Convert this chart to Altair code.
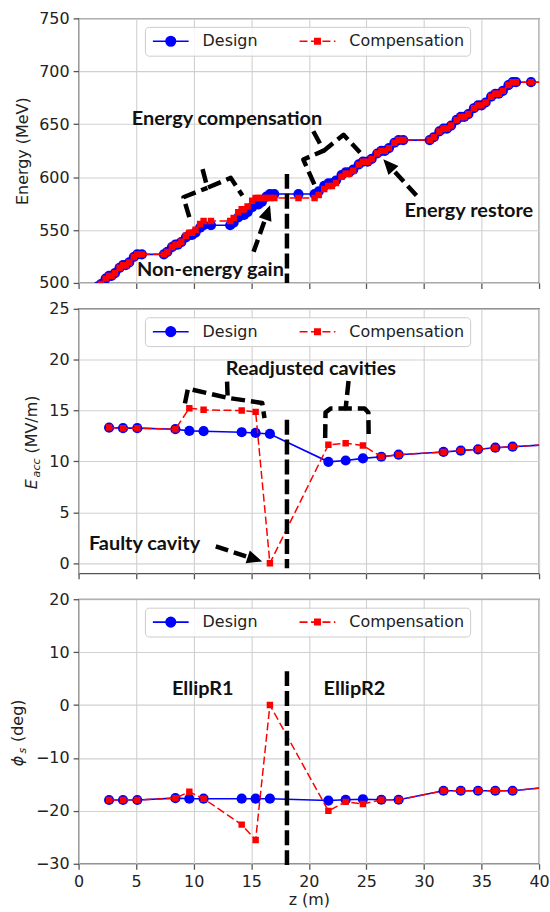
import altair as alt
import pandas as pd

# ---------------- series ----------------
series_names = ["Design", "Compensation"]
series_colors = ["#0000ff", "#ff0000"]

# cavity positions (m) with accelerating field (MV/m) and synchronous phase (deg)
cav_z = [2.65, 3.86, 5.10, 8.41, 9.62, 10.86, 14.17, 15.38, 16.62,
         21.70, 23.20, 24.70, 26.30, 27.80, 31.70, 33.20, 34.70, 36.20, 37.70, 41.60]
eacc_design = [13.33, 13.27, 13.27, 13.17, 13.00, 12.97, 12.87, 12.80, 12.70,
               9.96, 10.09, 10.30, 10.46, 10.66, 10.93, 11.06, 11.19, 11.35, 11.45, 11.70]
eacc_comp = [13.33, 13.27, 13.27, 13.17, 15.23, 15.07, 15.00, 14.87, 0.00,
             11.63, 11.79, 11.56, 10.46, 10.66, 10.93, 11.06, 11.19, 11.35, 11.45, 11.70]
phase_design = [-17.95, -17.95, -17.95, -17.6, -17.7, -17.7, -17.7, -17.7, -17.7,
                -18.05, -17.9, -17.8, -17.9, -17.9, -16.2, -16.2, -16.2, -16.2, -16.2, -15.35]
phase_comp = [-17.95, -17.95, -17.95, -17.6, -16.4, -17.7, -22.6, -25.5, 0.0,
              -20.0, -18.3, -18.7, -17.9, -17.9, -16.2, -16.2, -16.2, -16.2, -16.2, -15.35]

# beam energy sampled through the cavities (m, MeV)
energy_z = [
    1.65, 1.95, 2.35, 2.65, 2.86, 3.16, 3.56, 3.86, 4.10, 4.40, 4.80, 5.10, 5.50,
    7.41, 7.71, 8.11, 8.41, 8.62, 8.92, 9.32, 9.62, 9.86, 10.16, 10.56, 10.86, 11.50,
    13.17, 13.47, 13.87, 14.17, 14.38, 14.68, 15.08, 15.38, 15.62, 15.92, 16.32, 16.62, 17.00, 19.10,
    20.50, 20.86, 21.34, 21.70, 22.00, 22.36, 22.84, 23.20, 23.50, 23.86, 24.34, 24.70,
    25.10, 25.46, 25.94, 26.30, 26.60, 26.96, 27.44, 27.80, 28.20,
    30.50, 30.86, 31.34, 31.70, 32.00, 32.36, 32.84, 33.20, 33.50, 33.86, 34.34, 34.70,
    35.00, 35.36, 35.84, 36.20, 36.50, 36.86, 37.34, 37.70, 38.00, 39.30, 41.00]
energy_design = [
    496.5, 499.0, 504.1, 506.7, 506.7, 509.2, 514.3, 516.8, 516.8, 519.4, 524.5, 527.0, 527.0,
    527.0, 529.3, 533.9, 536.2, 536.2, 538.5, 543.0, 545.3, 545.3, 547.6, 552.2, 554.5, 554.5,
    554.5, 557.0, 561.9, 564.3, 564.3, 566.8, 571.7, 574.2, 574.2, 576.6, 581.6, 584.0, 584.0, 584.0,
    584.0, 586.6, 591.7, 594.2, 594.2, 596.8, 601.9, 604.4, 604.4, 607.0, 612.1, 614.6,
    614.6, 617.2, 622.3, 624.8, 624.8, 627.4, 632.5, 635.0, 635.0,
    635.0, 637.7, 643.2, 645.9, 645.9, 648.7, 654.1, 656.9, 656.9, 659.6, 665.1, 667.8,
    667.8, 670.5, 676.0, 678.8, 678.8, 681.5, 687.0, 689.7, 689.7, 689.7, 689.7]
energy_comp = [
    496.5, 499.0, 504.1, 506.7, 506.7, 509.2, 514.3, 516.8, 516.8, 519.4, 524.5, 527.0, 527.0,
    527.0, 529.3, 533.9, 536.2, 536.2, 539.0, 544.6, 547.4, 547.4, 550.2, 555.7, 558.5, 558.5,
    558.5, 561.3, 566.8, 569.6, 569.6, 572.3, 577.6, 580.3, 580.3, 580.3, 580.3, 580.3, 580.3, 580.3,
    580.3, 583.1, 588.8, 591.6, 591.6, 594.5, 600.3, 603.2, 603.2, 606.1, 611.8, 614.6,
    614.6, 617.2, 622.3, 624.8, 624.8, 627.4, 632.5, 635.0, 635.0,
    635.0, 637.7, 643.2, 645.9, 645.9, 648.7, 654.1, 656.9, 656.9, 659.6, 665.1, 667.8,
    667.8, 670.5, 676.0, 678.8, 678.8, 681.5, 687.0, 689.7, 689.7, 689.7, 689.7]

# ---------------- annotations (data units) ----------------
split_z = 18.1

e_brace_seg = ["a", "a", "a", "b", "b", "b", "b", "c", "c", "c", "d", "d", "d", "d"]
e_brace_z = [9.62, 9.11, 11.19, 10.77, 11.19, 13.22, 14.23, 20.48, 19.52, 21.30, 20.39, 21.30, 23.02, 24.45]
e_brace_v = [562.2, 581.0, 589.9, 607.5, 589.9, 599.3, 582.6, 593.2, 616.6, 625.0, 643.3, 625.0, 640.0, 623.2]
e_arrow_z = [15.20, 29.35]
e_arrow_v = [529.4, 582.6]
e_arrow_z2 = [16.38, 26.99]
e_arrow_v2 = [565.5, 610.7]
e_arrow_ang = [19, 318]
e_labels = ["Energy compensation", "Non-energy gain", "Energy restore"]
e_label_z = [12.89, 11.45, 33.90]
e_label_v = [649.7, 506.5, 562.2]

a_brace_seg = ["a", "a", "a", "b", "b", "b", "b", "c", "c", "c", "c", "d", "d", "d", "d", "d"]
a_brace_z = [9.24, 9.50, 12.95, 12.90, 12.95, 15.95, 16.15,
             21.42, 21.45, 21.90, 23.20, 23.45, 23.20, 24.85, 25.17, 25.20]
a_brace_v = [15.7, 17.15, 16.25, 17.85, 16.25, 15.75, 14.25,
             12.3, 14.8, 15.2, 15.2, 17.9, 15.2, 15.2, 14.8, 12.3]
a_arrow_z = [11.92]
a_arrow_v = [1.64]
a_arrow_z2 = [15.21]
a_arrow_v2 = [0.44]
a_arrow_ang = [108]
a_labels = ["Readjusted cavities", "Faulty cavity"]
a_label_z = [20.18, 5.73]
a_label_v = [18.5, 1.32]

p_labels = ["EllipR1", "EllipR2"]
p_label_z = [10.79, 23.96]
p_label_v = [1.97, 1.97]

X_TICKS = [0, 5, 10, 15, 20, 25, 30, 35, 40]

BLUE, RED, INK = series_colors[0], series_colors[1], "#111111"
HEAD = "M0,-1L0.75,0.7L-0.75,0.7Z"
# legend glyphs: line with a marker, drawn as symbol paths
LEG_DESIGN = "M-1,0L5,0M2.8,0A0.8,0.8,0,1,1,1.2,0A0.8,0.8,0,1,1,2.8,0Z"
LEG_COMP = ("M-1,0L0.333,0M0.917,0L2.25,0M2.833,0L4.167,0M4.75,0L5,0"
            "M1.55,-0.45L2.45,-0.45L2.45,0.45L1.55,0.45Z")

one_row = pd.DataFrame({"k": [0]})


def build_panel(z, d_vals, c_vals, ydom, yticks, ytitle, show_x, split, braces=None,
                arrows=None, labels=None, title_parts=()):
    df = pd.DataFrame({"z": z, "design": d_vals, "comp": c_vals})
    xs = alt.Scale(domain=[0, 40], nice=False, zero=False)
    ys = alt.Scale(domain=ydom, nice=False, zero=False)
    if show_x:
        xaxis = alt.Axis(values=X_TICKS, title="z (m)", titlePadding=2, labelFlush=False,
                         labelOverlap=False)
    else:
        xaxis = alt.Axis(values=X_TICKS, title=None, labels=False)
    yaxis = alt.Axis(values=yticks, title=ytitle, titlePadding=8.5, labelFlush=False,
                     labelOverlap=False)

    def X(f):
        return alt.X(f, type="quantitative", scale=xs, axis=xaxis)

    def Y(f):
        return alt.Y(f, type="quantitative", scale=ys, axis=yaxis)

    base = alt.Chart(df)
    layers = [
        base.mark_line(color=BLUE, strokeWidth=1.6, clip=True).encode(x=X("z"), y=Y("design")),
        base.mark_circle(size=105, color=BLUE, opacity=1, clip=True).encode(x=X("z"), y=Y("design")),
        base.mark_line(color=RED, strokeWidth=1.5, strokeDash=[8, 3.5], clip=True).encode(
            x=X("z"), y=Y("comp")),
        base.mark_square(size=42, color=RED, opacity=1, clip=True).encode(x=X("z"), y=Y("comp")),
    ]

    # legend built from the series scale (no marks of its own)
    leg = alt.Legend(title=None, orient="none", legendX=66.7, legendY=8.5, direction="horizontal",
                     columns=2, symbolSize=144, symbolStrokeWidth=1.6, labelOffset=36,
                     columnPadding=37.5, padding=6, labelFont="DejaVu Sans", labelFontSize=16,
                     labelColor="#222222", fillColor="rgba(255,255,255,0.8)",
                     strokeColor="#cccccc", cornerRadius=4)
    sdf = pd.DataFrame({"series": series_names})
    layers.append(
        alt.Chart(sdf).mark_point(filled=True, opacity=1, strokeWidth=1.6).encode(
            x=alt.value(0), y=alt.value(0),
            fill=alt.Fill("series:N", scale=alt.Scale(domain=series_names, range=series_colors),
                          legend=leg),
            stroke=alt.Stroke("series:N", scale=alt.Scale(domain=series_names, range=series_colors),
                              legend=leg),
            shape=alt.Shape("series:N", scale=alt.Scale(domain=series_names,
                                                        range=[LEG_DESIGN, LEG_COMP]), legend=leg),
        ).transform_filter("datum.series == 'none'")
    )

    # separator between the two cavity families
    sdf2 = pd.DataFrame({"z": [split_z], "v": [split[0]], "v2": [split[1]]})
    layers.append(alt.Chart(sdf2).mark_rule(color="#000000", strokeWidth=4.5, strokeDash=[15, 5]).encode(
        x=X("z"), y=Y("v"), y2="v2"))

    if braces is not None:
        bdf = pd.DataFrame({"seg": braces[0], "z": braces[1], "v": braces[2]})
        bdf["ord"] = range(len(bdf))
        layers.append(alt.Chart(bdf).mark_line(color="#000000", strokeWidth=4.5, strokeDash=[14, 6],
                                               strokeJoin="round").encode(
            x=X("z"), y=Y("v"), detail="seg:N", order="ord:Q"))
    if arrows is not None:
        adf = pd.DataFrame({"z": arrows[0], "v": arrows[1], "z2": arrows[2], "v2": arrows[3],
                            "ang": arrows[4]})
        layers.append(alt.Chart(adf).mark_rule(color="#000000", strokeWidth=4.5,
                                               strokeDash=[13, 6]).encode(
            x=X("z"), y=Y("v"), x2="z2", y2="v2"))
        layers.append(alt.Chart(adf).mark_point(shape=HEAD, size=324, filled=True, color="#000000",
                                                opacity=1).encode(
            x=X("z2"), y=Y("v2"), angle=alt.Angle("ang:Q", scale=None)))
    if labels is not None:
        ldf = pd.DataFrame({"text": labels[0], "z": labels[1], "v": labels[2]})
        layers.append(alt.Chart(ldf).mark_text(font="Lato", fontWeight="bold", fontSize=20,
                                               color=INK, align="center",
                                               baseline="alphabetic").encode(
            x=X("z"), y=Y("v"), text="text:N"))

    # axis title with subscript, composed of rotated text pieces
    for txt, px, py, size, style in title_parts:
        layers.append(alt.Chart(one_row).mark_text(
            text=txt, angle=270, align="left", baseline="alphabetic", font="DejaVu Sans",
            fontSize=size, fontStyle=style, color="#222222").encode(x=alt.value(px), y=alt.value(py)))

    return alt.layer(*layers).properties(width=463, height=266)


p_energy = build_panel(
    energy_z, energy_design, energy_comp, [500, 750], [500, 550, 600, 650, 700, 750],
    "Energy (MeV)", False, (603, 500),
    braces=(e_brace_seg, e_brace_z, e_brace_v),
    arrows=(e_arrow_z, e_arrow_v, e_arrow_z2, e_arrow_v2, e_arrow_ang),
    labels=(e_labels, e_label_z, e_label_v))

p_eacc = build_panel(
    cav_z, eacc_design, eacc_comp, [-1, 25], [0, 5, 10, 15, 20, 25],
    None, False, (14.1, -0.5),
    braces=(a_brace_seg, a_brace_z, a_brace_v),
    arrows=(a_arrow_z, a_arrow_v, a_arrow_z2, a_arrow_v2, a_arrow_ang),
    labels=(a_labels, a_label_z, a_label_v),
    title_parts=[("E", -41.5, 181.5, 16, "italic"),
                 ("acc", -38.5, 169.5, 11.2, "italic"),
                 ("(MV/m)", -41.5, 145.5, 16, "normal")])

p_phase = build_panel(
    cav_z, phase_design, phase_comp, [-30, 20], [-30, -20, -10, 0, 10, 20],
    None, True, (6.4, -31),
    labels=(p_labels, p_label_z, p_label_v),
    title_parts=[("\u03d5", -55.5, 168, 16, "italic"),
                 ("s", -52.5, 155, 11.2, "italic"),
                 ("(deg)", -55.5, 143.5, 16, "normal")])

chart = alt.vconcat(p_energy, p_eacc, p_phase, spacing=26, bounds="flush").resolve_scale(
    y="independent", fill="independent", stroke="independent", shape="independent"
).resolve_legend(
    fill="independent", stroke="independent", shape="independent"
).properties(
    padding={"left": 9, "top": 7, "right": 0, "bottom": 0}, background="white"
).configure_axis(
    labelFont="DejaVu Sans", labelFontSize=16, labelColor="#222222", labelPadding=4,
    titleFont="DejaVu Sans", titleFontSize=16, titleFontWeight="normal", titleColor="#222222",
    tickColor="#555555", tickSize=5.5, tickWidth=1.3, domain=False,
    gridColor="#d0d0d0", gridWidth=1.1
).configure_view(stroke="#555555", strokeWidth=1.3)

chart.save("out.html", embed_options={"renderer": "svg", "actions": False})
